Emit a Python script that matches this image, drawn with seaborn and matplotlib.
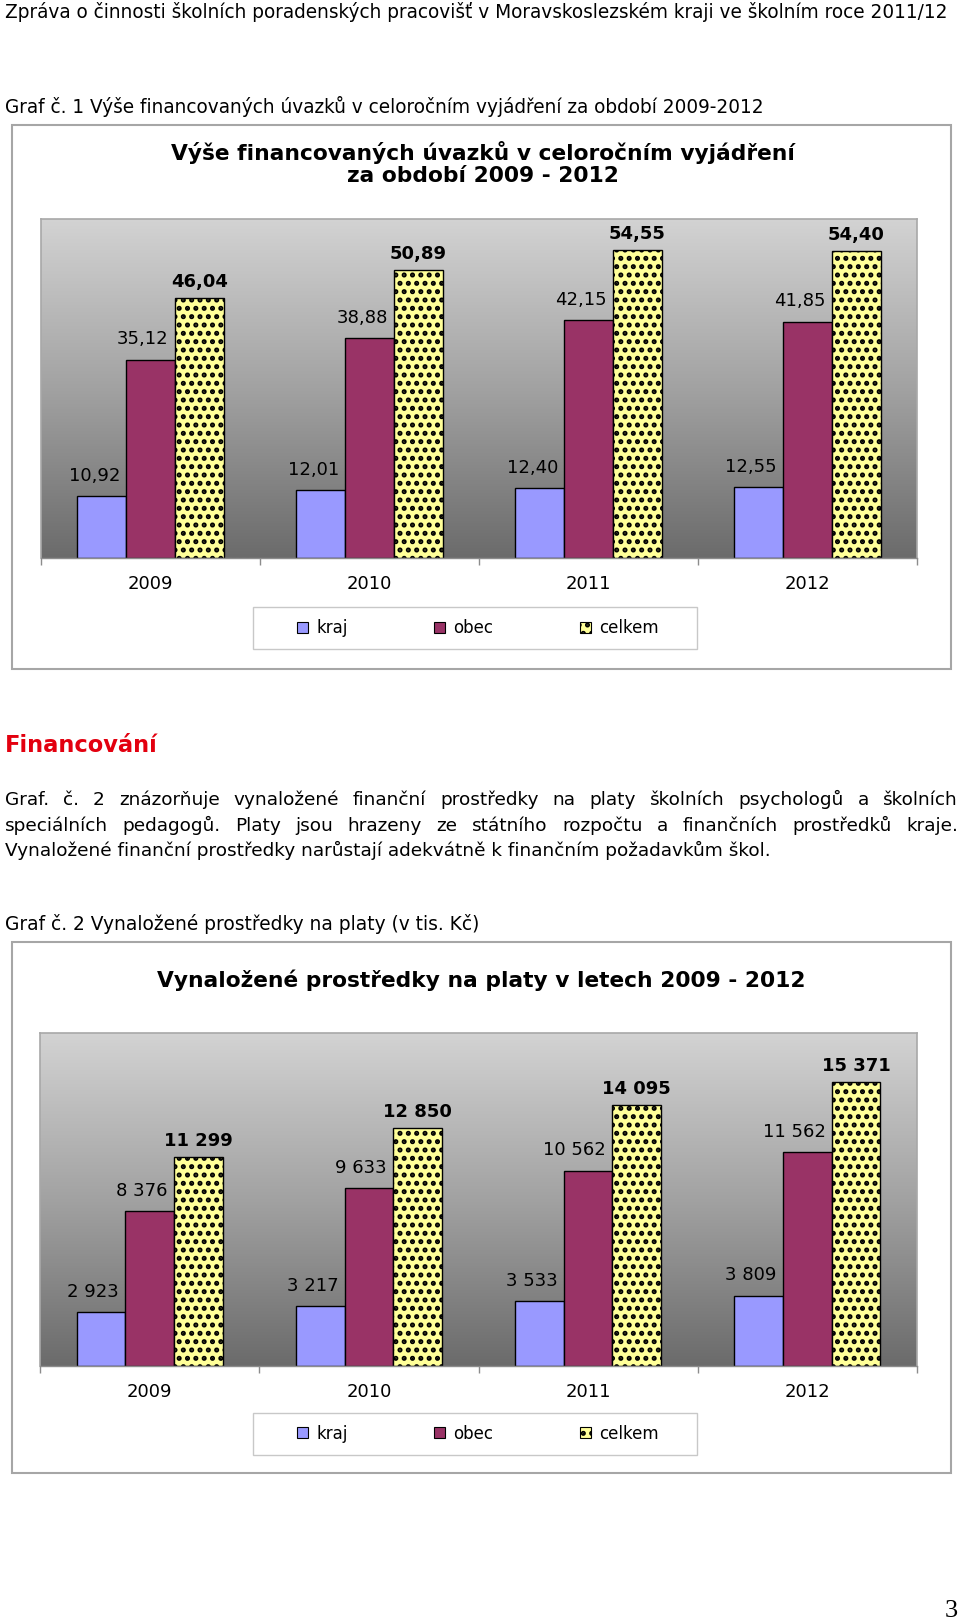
import numpy as np
import pandas as pd
import matplotlib
matplotlib.use('Agg')
import matplotlib.pyplot as plt
import seaborn as sns
from matplotlib.colors import LinearSegmentedColormap
from matplotlib.patches import Rectangle, Patch

# data
roky = ['2009', '2010', '2011', '2012']
serie = ['kraj', 'obec', 'celkem']

uvazky_kraj = [10.92, 12.01, 12.40, 12.55]
uvazky_obec = [35.12, 38.88, 42.15, 41.85]
uvazky_celkem = [46.04, 50.89, 54.55, 54.40]

platy_kraj = [2923, 3217, 3533, 3809]
platy_obec = [8376, 9633, 10562, 11562]
platy_celkem = [11299, 12850, 14095, 15371]

barvy = ['#9999ff', '#993366', '#ffff99']

odstavec = [
    'Graf. č. 2 znázorňuje vynaložené finanční prostředky na platy školních psychologů a školních',
    'speciálních pedagogů. Platy jsou hrazeny ze státního rozpočtu a finančních prostředků kraje.',
    'Vynaložené finanční prostředky narůstají adekvátně k finančním požadavkům škol.',
]

W, H = 960, 1619
sns.set_theme(style='white')
plt.rcParams['font.family'] = ['DejaVu Sans']
plt.rcParams['text.color'] = 'black'
plt.rcParams['hatch.linewidth'] = 2.4

fig = plt.figure(figsize=(W / 100, H / 100), dpi=100)
renderer = fig.canvas.get_renderer()


def fx(px):
    return px / W


def fy(px):
    return 1 - px / H


def fit_text(x, y, s, width, size=12, **kw):
    # scale the font so the text spans the given pixel width
    t = fig.text(fx(x), fy(y), s, fontsize=size, **kw)
    w = t.get_window_extent(renderer).width
    t.set_fontsize(size * width / w)
    return t


def box(x0, y0, x1, y1, color, lw):
    fig.add_artist(Rectangle((fx(x0), fy(y1)), fx(x1) - fx(x0), (y1 - y0) / H,
                             transform=fig.transFigure, fill=False,
                             edgecolor=color, linewidth=lw))


pozadi = LinearSegmentedColormap.from_list('pozadi', ['#6b6b6b', '#a2a2a2', '#d3d3d3'])


def graf(plot, kraj, obec, celkem, ymax, fmt, legend_y):
    x0, y0, x1, y1 = plot
    ax = fig.add_axes([fx(x0), fy(y1), (x1 - x0) / W, (y1 - y0) / H])
    df = pd.DataFrame({'rok': roky * 3,
                       'serie': np.repeat(serie, 4),
                       'hodnota': kraj + obec + celkem})
    sns.barplot(data=df, x='rok', y='hodnota', hue='serie', hue_order=serie,
                palette=barvy, saturation=1, width=0.667, errorbar=None,
                edgecolor='black', linewidth=1, legend=False, ax=ax)
    grad = np.linspace(0, 1, 256).reshape(-1, 1)
    ax.imshow(grad, extent=[0, 1, 0, 1], transform=ax.transAxes, origin='lower',
              cmap=pozadi, aspect='auto', zorder=0)
    ax.set_xlim(-0.5, 3.5)
    ax.set_ylim(0, ymax)

    for bar in ax.containers[2]:
        bar.set_hatch('..')

    for i, cont in enumerate(ax.containers):
        for bar in cont:
            v = bar.get_height()
            if i == 2:
                ax.annotate(fmt(v), (bar.get_x() + bar.get_width() / 2, v),
                            xytext=(0, 11.5), textcoords='offset points',
                            ha='center', va='center', fontsize=13, fontweight='bold')
            else:
                ax.annotate(fmt(v), (bar.get_x() + bar.get_width(), v),
                            xytext=(-4.5, 14.5), textcoords='offset points',
                            ha='right', va='center', fontsize=13)

    ax.set_xlabel('')
    ax.set_ylabel('')
    ax.set_yticks([])
    ax.set_xticks([-0.5, 0.5, 1.5, 2.5, 3.5], minor=True)
    ax.tick_params(axis='x', which='major', length=0, pad=12.5, labelsize=13, labelcolor='black')
    ax.tick_params(axis='x', which='minor', bottom=True, length=5, width=1, color='#8c8c8c')
    for side in ['top', 'left', 'right']:
        ax.spines[side].set_color('#a8a8a8')
        ax.spines[side].set_linewidth(1.2)
    ax.spines['bottom'].set_color('#8c8c8c')
    ax.spines['bottom'].set_linewidth(1)

    handles = [Patch(facecolor=c, edgecolor='black', linewidth=0.8, hatch=h)
               for c, h in zip(barvy, ['', '', '..'])]
    fig.legend(handles, serie, loc='center', bbox_to_anchor=(fx(478), fy(legend_y)),
               ncol=3, frameon=False, fontsize=12, columnspacing=5.2,
               handlelength=0.66, handleheight=0.66, handletextpad=0.48,
               borderpad=0, borderaxespad=0)
    box(253, legend_y - 21, 697, legend_y + 21, '#c8c8c8', 1)
    return ax


def carka(v):
    return f'{v:.2f}'.replace('.', ',')


def mezera(v):
    return f'{int(round(v)):,}'.replace(',', ' ')


# page texts
fit_text(5, 18, 'Zpráva o činnosti školních poradenských pracovišť v Moravskoslezském kraji ve školním roce 2011/12',
         945, va='baseline')
fit_text(5, 113, 'Graf č. 1 Výše financovaných úvazků v celoročním vyjádření za období 2009-2012',
         759, va='baseline')
fit_text(5, 752, 'Financování', 152, va='baseline', fontweight='bold', color='#e3000f')

t3 = fit_text(5, 856, odstavec[2], 764, va='baseline')
vel = t3.get_fontsize()
for radek, y in zip(odstavec[:2], [805, 831]):
    slova = radek.split(' ')
    texty = [fig.text(0, fy(y), s, fontsize=vel, va='baseline') for s in slova]
    sirky = [t.get_window_extent(renderer).width for t in texty]
    mezera_px = (958 - 5 - sum(sirky)) / (len(slova) - 1)
    x = 5
    for t, w in zip(texty, sirky):
        t.set_x(fx(x))
        x += w + mezera_px

fit_text(5, 930, 'Graf č. 2 Vynaložené prostředky na platy (v tis. Kč)', 473, va='baseline')

# chart 1
box(11.5, 125.5, 950.5, 669.5, '#a6a6a6', 1.5)
tt = fit_text(483, 152, 'Výše financovaných úvazků v celoročním vyjádření', 622,
              ha='center', va='center', fontweight='bold')
fig.text(fx(483), fy(176), 'za období 2009 - 2012', fontsize=tt.get_fontsize(),
         ha='center', va='center', fontweight='bold')
graf((41, 219, 917, 558), uvazky_kraj, uvazky_obec, uvazky_celkem, 60, carka, 628)

# chart 2
box(11.5, 942, 950.5, 1473, '#a6a6a6', 1.5)
fig.text(fx(481), fy(980), 'Vynaložené prostředky na platy v letech 2009 - 2012',
         fontsize=tt.get_fontsize(), ha='center', va='center', fontweight='bold')
graf((40, 1033, 917, 1366), platy_kraj, platy_obec, platy_celkem, 18000, mezera, 1433.5)

fig.text(fx(958), fy(1617), '3', ha='right', va='baseline', family='Liberation Serif', fontsize=19)

fig.savefig('out.png', dpi=100)
